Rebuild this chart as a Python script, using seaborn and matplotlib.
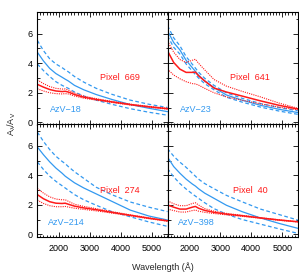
import numpy as np
import pandas as pd
import matplotlib
matplotlib.use('Agg')
import matplotlib.pyplot as plt
import seaborn as sns
from matplotlib.ticker import MultipleLocator

# wavelength grid (Angstrom)
wave = [1300, 1500, 1700, 1900, 2100, 2200, 2300, 2500, 2800, 3200, 3700, 4300, 4900, 5500]

# SMC star extinction curves (blue), mean and +/- range
azv18 = [4.75, 4.15, 3.65, 3.30, 3.05, 2.92, 2.80, 2.50, 2.20, 1.88, 1.55, 1.20, 0.95, 0.72]
azv18_hi = [5.55, 4.85, 4.30, 3.95, 3.70, 3.55, 3.42, 3.10, 2.72, 2.30, 1.90, 1.50, 1.22, 1.00]
azv18_lo = [3.95, 3.50, 3.10, 2.75, 2.50, 2.40, 2.30, 2.05, 1.78, 1.50, 1.22, 0.92, 0.68, 0.48]

azv23 = [6.20, 5.40, 4.90, 4.20, 3.70, 3.45, 3.20, 2.80, 2.35, 1.85, 1.50, 1.15, 0.88, 0.66]
azv23_hi = [6.55, 5.72, 5.18, 4.45, 3.93, 3.67, 3.40, 2.98, 2.50, 2.00, 1.63, 1.27, 1.00, 0.78]
azv23_lo = [5.85, 5.08, 4.62, 3.95, 3.47, 3.23, 3.00, 2.62, 2.20, 1.70, 1.37, 1.03, 0.76, 0.54]

azv214 = [5.93, 5.40, 4.92, 4.50, 4.15, 3.95, 3.80, 3.50, 3.15, 2.75, 2.25, 1.65, 1.25, 0.98]
azv214_hi = [6.94, 6.30, 5.75, 5.30, 4.95, 4.80, 4.60, 4.25, 3.80, 3.20, 2.70, 2.20, 1.85, 1.55]
azv214_lo = [4.92, 4.40, 3.95, 3.60, 3.30, 3.15, 3.00, 2.70, 2.35, 1.98, 1.55, 1.20, 0.85, 0.55]

azv398 = [5.25, 4.60, 4.15, 3.75, 3.42, 3.28, 3.10, 2.80, 2.45, 1.98, 1.55, 1.12, 0.75, 0.42]
azv398_hi = [5.82, 5.30, 4.90, 4.55, 4.15, 3.95, 3.75, 3.45, 3.10, 2.65, 2.22, 1.72, 1.35, 0.98]
azv398_lo = [4.47, 3.90, 3.45, 3.08, 2.75, 2.60, 2.45, 2.15, 1.75, 1.38, 1.02, 0.70, 0.38, 0.08]

# pixel extinction curves (red), mean and +/- range
pix669 = [2.57, 2.38, 2.22, 2.12, 2.08, 2.10, 2.05, 1.88, 1.70, 1.55, 1.38, 1.20, 1.05, 0.92]
pix669_hi = [2.87, 2.62, 2.42, 2.30, 2.25, 2.26, 2.18, 1.98, 1.77, 1.60, 1.42, 1.23, 1.08, 0.95]
pix669_lo = [2.27, 2.12, 2.00, 1.94, 1.92, 1.94, 1.92, 1.78, 1.63, 1.50, 1.34, 1.17, 1.02, 0.89]

pix641 = [4.84, 4.05, 3.60, 3.38, 3.38, 3.40, 3.15, 2.80, 2.32, 2.05, 1.78, 1.45, 1.15, 0.90]
pix641_hi = [5.50, 4.75, 4.25, 4.05, 4.20, 4.27, 4.00, 3.55, 2.90, 2.45, 2.10, 1.72, 1.30, 0.95]
pix641_lo = [3.60, 3.20, 2.95, 2.75, 2.62, 2.60, 2.52, 2.30, 2.00, 1.72, 1.50, 1.25, 1.02, 0.85]

pix274 = [2.70, 2.42, 2.22, 2.12, 2.10, 2.12, 2.05, 1.92, 1.80, 1.68, 1.50, 1.30, 1.10, 0.92]
pix274_hi = [3.12, 2.80, 2.55, 2.40, 2.35, 2.35, 2.25, 2.05, 1.90, 1.75, 1.55, 1.33, 1.13, 0.94]
pix274_lo = [2.33, 2.10, 1.95, 1.88, 1.88, 1.90, 1.86, 1.78, 1.70, 1.60, 1.45, 1.27, 1.07, 0.90]

pix40 = [2.00, 1.85, 1.72, 1.72, 1.85, 1.90, 1.78, 1.63, 1.50, 1.38, 1.27, 1.12, 0.98, 0.86]
pix40_hi = [2.28, 2.08, 1.95, 1.95, 2.10, 2.15, 2.00, 1.75, 1.58, 1.43, 1.30, 1.14, 1.00, 0.87]
pix40_lo = [1.72, 1.62, 1.52, 1.52, 1.62, 1.66, 1.58, 1.50, 1.42, 1.33, 1.23, 1.10, 0.96, 0.85]

panels = [
    ('AzV\u221218', azv18, azv18_hi, azv18_lo, 'Pixel  669', pix669, pix669_hi, pix669_lo),
    ('AzV\u221223', azv23, azv23_hi, azv23_lo, 'Pixel  641', pix641, pix641_hi, pix641_lo),
    ('AzV\u2212214', azv214, azv214_hi, azv214_lo, 'Pixel  274', pix274, pix274_hi, pix274_lo),
    ('AzV\u2212398', azv398, azv398_hi, azv398_lo, 'Pixel  40', pix40, pix40_hi, pix40_lo),
]

sns.set_style('ticks')
plt.rcParams['font.family'] = ['Liberation Sans', 'DejaVu Sans']
plt.rcParams['mathtext.default'] = 'regular'
plt.rcParams['font.size'] = 6.5

blue = '#3399f0'
red = '#ff1a1a'

fig = plt.figure(figsize=(2.99, 2.79), dpi=100)
x0, w = 37.3 / 299, 130.2 / 299
h = 112.2 / 279
y_bot = 1 - 236.7 / 279
pos = [(x0, y_bot + h), (x0 + w, y_bot + h), (x0, y_bot), (x0 + w, y_bot)]

for i, (star, s, s_hi, s_lo, pix, p, p_hi, p_lo) in enumerate(panels):
    ax = fig.add_axes([pos[i][0], pos[i][1], w, h])
    df = pd.DataFrame({'wave': wave, 's': s, 's_hi': s_hi, 's_lo': s_lo,
                       'p': p, 'p_hi': p_hi, 'p_lo': p_lo})
    sns.lineplot(data=df, x='wave', y='s', ax=ax, color=blue, lw=0.9)
    sns.lineplot(data=df, x='wave', y='s_hi', ax=ax, color=blue, lw=0.9, linestyle=(0, (3, 2)))
    sns.lineplot(data=df, x='wave', y='s_lo', ax=ax, color=blue, lw=0.9, linestyle=(0, (3, 2)))
    sns.lineplot(data=df, x='wave', y='p', ax=ax, color=red, lw=1.1)
    sns.lineplot(data=df, x='wave', y='p_hi', ax=ax, color=red, lw=0.8, linestyle=(0, (1, 1)))
    sns.lineplot(data=df, x='wave', y='p_lo', ax=ax, color=red, lw=0.8, linestyle=(0, (1, 1)))

    ax.set_xlim(1300, 5500)
    ax.set_ylim(-0.15, 7.45)
    ax.xaxis.set_major_locator(MultipleLocator(1000))
    ax.xaxis.set_minor_locator(MultipleLocator(100))
    ax.yaxis.set_major_locator(MultipleLocator(2))
    ax.yaxis.set_minor_locator(MultipleLocator(1))
    ax.tick_params(which='both', direction='in', top=True, right=True, width=0.6, colors='black', labelsize=6.5)
    ax.tick_params(axis='x', pad=5.5)
    ax.tick_params(axis='y', pad=3.5)
    ax.tick_params(which='major', length=3.5)
    ax.tick_params(which='minor', length=1.8)
    for sp in ax.spines.values():
        sp.set_linewidth(0.8)
        sp.set_color('black')
    ax.set_xlabel('')
    ax.set_ylabel('')
    if i in (0, 1):
        ax.set_xticklabels([])
    if i in (1, 3):
        ax.set_yticklabels([])

    ax.text(0.635, 0.415, pix, color=red, transform=ax.transAxes, ha='center', va='center', fontsize=6.5)
    ax.text(0.22, 0.13, star, color=blue, transform=ax.transAxes, ha='center', va='center', fontsize=6.5)

fig.text(0.545, 0.043, 'Wavelength (\u00c5)', ha='center', va='center', fontsize=6.5)
fig.text(0.04, 0.556, r'A$_\lambda$/A$_V$', ha='center', va='center', rotation=90, fontsize=6.5)

fig.savefig('out.png', dpi=100)
